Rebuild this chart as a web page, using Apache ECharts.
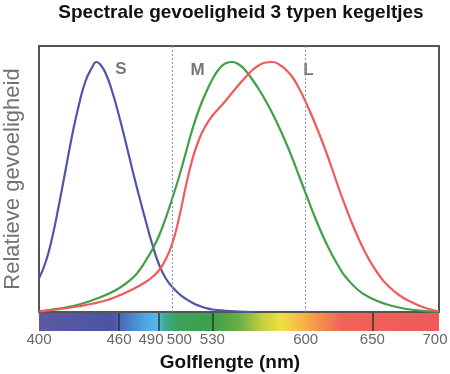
<!DOCTYPE html>
<html><head><meta charset="utf-8">
<script src="https://cdn.jsdelivr.net/npm/echarts@6/dist/echarts.min.js"></script>
<style>html,body{margin:0;padding:0;background:#fff}#c{width:450px;height:374px}</style>
</head><body><div id="c"></div>
<script>
const title = 'Spectrale gevoeligheid 3 typen kegeltjes';
const xTitle = 'Golflengte (nm)';
const yTitle = 'Relatieve gevoeligheid';
const tickLabels = [400, 460, 490, 500, 530, 600, 650, 700];
const barDividers = [460, 490, 530, 650];
const refLines = [500, 600];

const sWave = [400,405,410,415,420,425,430,435,440,443,446,450,455,460,465,470,475,480,485,490,495,500,505,510,515,520,525,530,540,550,560];
const sVal  = [0.135,0.2,0.3,0.43,0.57,0.71,0.83,0.925,0.98,1.0,0.99,0.955,0.88,0.785,0.68,0.57,0.465,0.365,0.27,0.19,0.135,0.1,0.073,0.053,0.037,0.025,0.016,0.01,0.005,0.002,0];

const mWave = [400,410,420,430,440,450,460,470,475,480,485,490,495,500,505,510,515,520,525,530,535,540,545,550,555,560,565,570,575,580,585,590,595,600,605,610,615,620,625,630,640,650,660,670,680,690,700];
const mVal  = [0.003,0.01,0.018,0.03,0.047,0.068,0.095,0.135,0.165,0.205,0.25,0.305,0.375,0.455,0.54,0.635,0.73,0.81,0.875,0.93,0.972,0.995,1.0,0.99,0.965,0.93,0.89,0.845,0.795,0.74,0.68,0.615,0.545,0.475,0.405,0.34,0.28,0.227,0.18,0.14,0.085,0.053,0.032,0.018,0.009,0.004,0.001];

const lWave = [400,410,420,430,440,450,460,470,480,485,490,495,500,505,510,515,520,525,530,535,540,545,550,555,560,565,570,575,580,585,590,595,600,605,610,615,620,625,630,635,640,645,650,655,660,670,680,690,700];
const lVal  = [0.002,0.008,0.015,0.023,0.033,0.046,0.066,0.09,0.12,0.14,0.167,0.21,0.275,0.375,0.5,0.61,0.69,0.745,0.785,0.815,0.845,0.878,0.91,0.94,0.967,0.987,0.998,1.0,0.99,0.97,0.94,0.895,0.84,0.78,0.715,0.645,0.57,0.492,0.42,0.352,0.29,0.235,0.188,0.148,0.115,0.068,0.038,0.016,0.002];

const curveNames = ['S', 'M', 'L'];
const curveLabelPos = [[461.5, 0.972], [519, 0.968], [602, 0.968]];

const spectrumStops = [
  [400,'#5e58a2'],[455,'#4a56a2'],[462,'#4a6cbc'],[480,'#4fa6e2'],[489,'#55b8ea'],
  [495,'#3fa88a'],[505,'#3ea25a'],[530,'#3f9e4c'],[550,'#6aae44'],[568,'#c8d040'],
  [582,'#eee043'],[598,'#f6b446'],[612,'#f58a4e'],[628,'#f06258'],[700,'#f05a5a']
];

const zip = (a, b) => a.map((v, i) => [v, b[i]]);
const chart = echarts.init(document.getElementById('c'));
const colors = ['#4f55a8', '#3fa048', '#f05a5a'];
const grad = new echarts.graphic.LinearGradient(0, 0, 1, 0,
  spectrumStops.map(s => ({offset: (s[0] - 400) / 300, color: s[1]})));
const labelStyle = {l: 490, r: 500, e: 700};

chart.setOption({
  animation: false,
  title: {text: title, left: 236, textAlign: 'center', top: -2,
    textStyle: {fontFamily: 'Liberation Sans', fontSize: 19, fontWeight: 'bold', color: '#111'}},
  grid: [
    {left: 39, right: 11, top: 46, bottom: 62, show: true, borderColor: '#555', borderWidth: 2,
      backgroundColor: '#fff', containLabel: false, outerBoundsMode: 'none'},
    {left: 39, right: 11, top: 313, bottom: 43, containLabel: false, outerBoundsMode: 'none'}
  ],
  xAxis: [
    {gridIndex: 0, type: 'value', min: 400, max: 700, interval: 100,
      axisLine: {show: false}, axisTick: {show: false}, axisLabel: {show: false},
      splitLine: {show: false}},
    {gridIndex: 1, type: 'value', min: 400, max: 700,
      axisLine: {show: false}, axisTick: {show: false}, splitLine: {show: false},
      axisLabel: {customValues: tickLabels, margin: 1, color: '#666', fontSize: 15,
        fontFamily: 'Liberation Sans',
        formatter: v => {
          const k = Object.keys(labelStyle).find(key => labelStyle[key] === v);
          return k ? '{' + k + '|' + v + '}' : String(v);
        },
        rich: {l: {padding: [0, 16, 0, 0], fontSize: 15, color: '#666'},
               r: {padding: [0, 0, 0, 14], fontSize: 15, color: '#666'},
               e: {padding: [0, 8, 0, 0], fontSize: 15, color: '#666'}}},
      name: xTitle, nameLocation: 'middle', nameGap: 22,
      nameTextStyle: {fontFamily: 'Liberation Sans', fontSize: 19, fontWeight: 'bold', color: '#111',
        padding: [0, 18, 0, 0]}}
  ],
  yAxis: [
    {gridIndex: 0, type: 'value', min: 0, max: 1.064,
      axisLine: {show: false}, axisTick: {show: false}, axisLabel: {show: false}, splitLine: {show: false},
      name: yTitle, nameLocation: 'middle', nameGap: 15, nameRotate: 90,
      nameTextStyle: {fontFamily: 'Liberation Sans', fontSize: 22, color: '#727272'}},
    {gridIndex: 1, type: 'value', min: 0, max: 1, show: false}
  ],
  series: [
    {type: 'line', xAxisIndex: 0, yAxisIndex: 0, data: [], silent: true,
      markLine: {symbol: 'none', silent: true, label: {show: false},
        lineStyle: {color: '#8a94a8', type: [2, 2], width: 1},
        data: refLines.map(v => ({xAxis: v}))}},
    ...[zip(sWave, sVal), zip(mWave, mVal), zip(lWave, lVal)].map((d, i) => ({
      type: 'line', name: curveNames[i], xAxisIndex: 0, yAxisIndex: 0, data: d,
      smooth: 0.5, showSymbol: false, lineStyle: {color: colors[i], width: 2.2}, z: 3
    })),
    {type: 'scatter', xAxisIndex: 0, yAxisIndex: 0, symbolSize: 0,
      data: curveLabelPos.map((p, i) => ({value: p, name: curveNames[i]})),
      label: {show: true, formatter: p => p.name, position: 'inside',
        fontFamily: 'Liberation Sans', fontSize: 17, fontWeight: 'bold', color: '#555'}},
    {type: 'line', xAxisIndex: 1, yAxisIndex: 1, data: [], silent: true,
      markArea: {silent: true, itemStyle: {color: grad},
        data: [[{xAxis: 400, yAxis: 0}, {xAxis: 700, yAxis: 1}]]},
      markLine: {symbol: 'none', silent: true, label: {show: false},
        lineStyle: {color: '#333', type: 'solid', width: 1.5},
        data: barDividers.map(v => ({xAxis: v}))}}
  ]
});
</script></body></html>
